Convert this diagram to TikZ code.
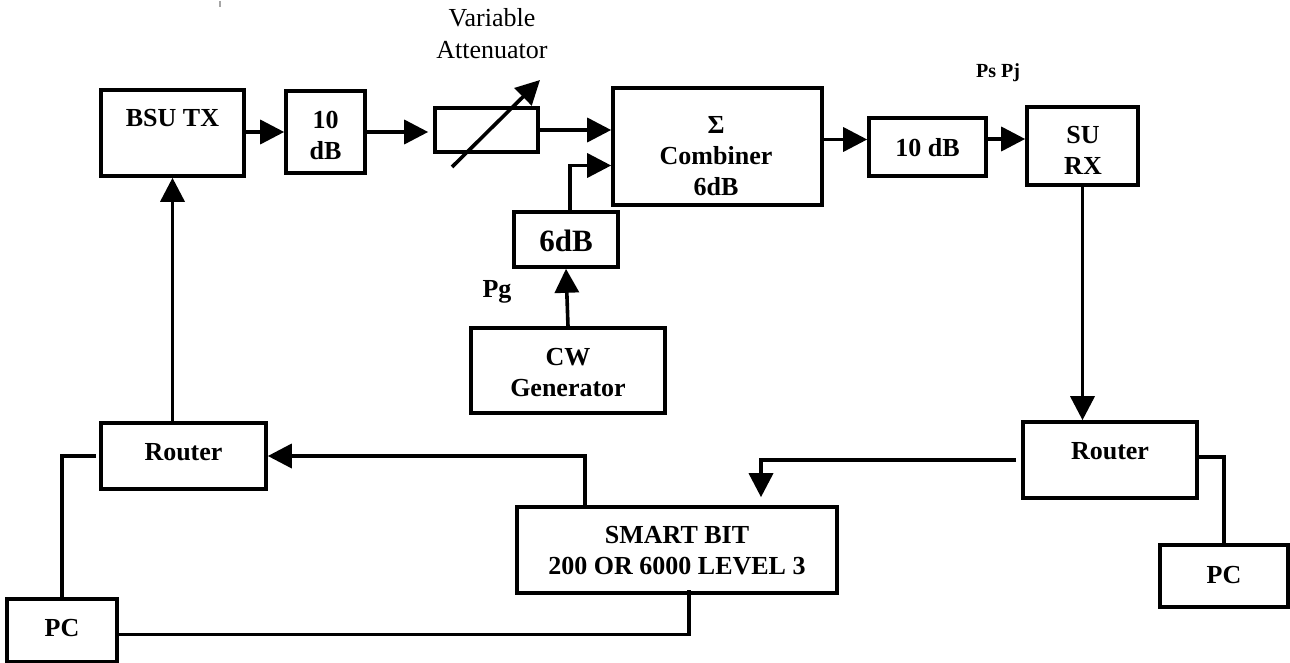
\documentclass[tikz,border=0pt]{standalone}
\usepackage{fontspec}
\setmainfont{Liberation Serif}
\usetikzlibrary{arrows.meta,calc}
\begin{document}
\begin{tikzpicture}[x=1pt,y=-1pt,
  box/.style={draw, line width=3.6pt, inner sep=0pt},
  lbl/.style={font=\fontsize{26}{31}\selectfont\bfseries, align=center, inner sep=0pt},
  conn/.style={line width=3.6pt},
  arr/.style={line width=3.6pt, -{Triangle[length=24pt,width=24pt]}}]
\useasboundingbox (0,0) rectangle (1290,663);
% stray tick
\draw[gray!70, line width=1.2pt] (220,1) -- (220,7);
% boxes
\node[box, minimum width=143pt, minimum height=86pt] (bsu) at (172.5,133) {};
\node[box, minimum width=79pt, minimum height=82pt] (db1) at (325.5,132) {};
\node[box, minimum width=103pt, minimum height=44pt] (att) at (486.5,130) {};
\node[box, minimum width=209pt, minimum height=117pt] (comb) at (717.5,146.5) {};
\node[box, minimum width=117pt, minimum height=58pt] (db2) at (927.5,147) {};
\node[box, minimum width=111pt, minimum height=78pt] (surx) at (1082.5,146) {};
\node[box, minimum width=104pt, minimum height=55pt] (db6) at (566,239.5) {};
\node[box, minimum width=194pt, minimum height=85pt] (cw) at (568,370.5) {};
\node[box, minimum width=165pt, minimum height=66pt] (r1) at (183.5,456) {};
\node[box, minimum width=174pt, minimum height=76pt] (r2) at (1110,460) {};
\node[box, minimum width=320pt, minimum height=86pt] (smart) at (677,550) {};
\node[box, minimum width=110pt, minimum height=63pt] (pcL) at (62,630.5) {};
\node[box, minimum width=128pt, minimum height=62pt] (pcR) at (1224,576) {};
% texts
\node[lbl] (bsuT) at (172.5,118) {BSU TX};
\node[lbl] (db1T) at (325.5,135) {10\\dB};
\node[lbl] (combT) at (716,156) {Σ\\Combiner\\6dB};
\node[lbl] (db2T) at (927.5,148) {10 dB};
\node[lbl] (surxT) at (1083,150) {SU\\RX};
\node[lbl, font=\fontsize{31}{36}\selectfont\bfseries] (db6T) at (566,241) {6dB};
\node[lbl] (cwT) at (568,373) {CW\\Generator};
\node[lbl] (r1T) at (183.5,452) {Router};
\node[lbl] (r2T) at (1110,451) {Router};
\node[lbl] (smartT) at (677,551) {SMART BIT\\200 OR 6000 LEVEL 3};
\node[lbl] (pcLT) at (62,628) {PC};
\node[lbl] (pcRT) at (1224,575) {PC};
\node[lbl, font=\fontsize{26}{32}\selectfont] (varT) at (492,34) {Variable\\Attenuator};
\node[lbl] (pgT) at (497,292) {Pg};
\node[lbl, font=\fontsize{20}{24}\selectfont\bfseries] (pspjT) at (998,73) {Ps Pj};
% variable attenuator arrow
\draw[arr] ($(att.center)+(-34.5,37)$) -- ($(att.center)+(53.5,-50)$);
% connectors
\draw[arr] (bsu.east |- db1.west) -- (db1.west);
\draw[arr] (db1.east) -- ([xshift=-5pt]db1.east -| att.west);
\draw[arr] (att.east) -- (att.east -| comb.west);
\draw[arr] ([xshift=4pt]db6.north) |- ([yshift=-19pt]comb.west);
\draw[arr] (cw.north) -- (db6.south);
\draw[arr] ([yshift=7pt]comb.east) -- ([yshift=7pt]comb.east -| db2.west);
\draw[arr] ([yshift=8pt]db2.east) -- ([yshift=8pt]db2.east -| surx.west);
\draw[arr] (surx.south) -- (surx.south |- r2.north);
\draw[arr] ([xshift=-5pt]r2.west) -| ($(smart.north)+(84,-8)$);
\draw[conn] ([yshift=3pt]r2.east) -| (pcR.north);
\draw[arr] ($(smart.north)+(-92,0)$) |- (r1.east);
\draw[arr] (bsu.south |- r1.north) -- (bsu.south);
\draw[conn] ([xshift=-3pt]r1.west) -| (pcL.north);
\draw[conn] ([yshift=-4pt]pcL.east) -| ($(smart.south)+(12,-5)$);
\end{tikzpicture}
\end{document}
